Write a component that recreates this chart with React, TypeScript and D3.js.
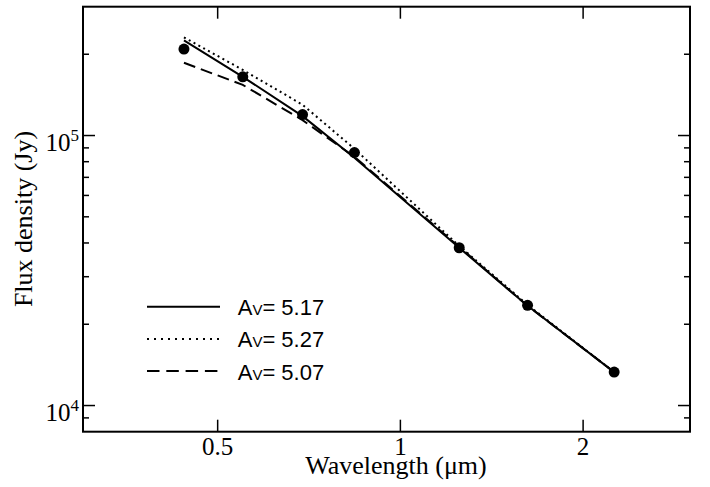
import React from "react";
import * as d3 from "d3";

const wavelengths = [0.44, 0.55, 0.69, 0.84, 1.25, 1.62, 2.25];
const observed = [2.09e5, 1.65e5, 1.196e5, 8.65e4, 3.84e4, 2.35e4, 1.33e4];
const modelAv517 = [2.25e5, 1.65e5, 1.18e5, 8.27e4, 3.84e4, 2.34e4, 1.33e4];
const modelAv527 = [2.31e5, 1.75e5, 1.3e5, 8.93e4, 3.9e4, 2.36e4, 1.33e4];
const modelAv507 = [1.86e5, 1.54e5, 1.14e5, 8.34e4, 3.87e4, 2.34e4, 1.33e4];
const legendLabels = ["5.17", "5.27", "5.07"];
const xTickValues = [0.5, 1, 2];
const xTickLabels = ["0.5", "1", "2"];
const yMajorValues = [1e4, 1e5];
const yMajorExponents = ["4", "5"];

const W = 710;
const H = 487;
const L = 83, R = 690, T = 6.7, B = 431.7;

export default function App() {
  const x = d3.scaleLog().domain([0.3, 3]).range([L, R]);
  const y = d3.scaleLog().domain([8e3, 3e5]).range([B, T]);

  const line = d3
    .line<[number, number]>()
    .x((d) => x(d[0]))
    .y((d) => y(d[1]));

  const series = [
    { values: modelAv517, dash: undefined as string | undefined, legendDash: undefined as string | undefined },
    { values: modelAv527, dash: "2,3.5", legendDash: "2,5" },
    { values: modelAv507, dash: "12,6", legendDash: "12.5,6.8" },
  ];

  const minor = y
    .ticks()
    .filter((v) => v > 8e3 * 1.0001 && v < 3e5 * 0.9999)
    .filter((v) => !yMajorValues.some((m) => Math.abs(m - v) / m < 1e-6));

  const serif = "'Liberation Serif', 'Times New Roman', serif";
  const sans = "'Liberation Sans', Arial, sans-serif";

  return (
    <svg
      width={W}
      height={H}
      viewBox={`0 0 ${W} ${H}`}
      style={{ position: "absolute", left: 0, top: 0, background: "#fff" }}
    >
      <rect x={0} y={0} width={W} height={H} fill="#fff" />
      {series.map((s, i) => (
        <path
          key={i}
          d={line(wavelengths.map((w, j) => [w, s.values[j]] as [number, number])) || ""}
          fill="none"
          stroke="#000"
          strokeWidth={2}
          strokeDasharray={s.dash}
        />
      ))}
      {wavelengths.map((w, j) => (
        <circle key={j} cx={x(w)} cy={y(observed[j])} r={5.5} fill="#000" />
      ))}
      <rect x={L} y={T} width={R - L} height={B - T} fill="none" stroke="#000" strokeWidth={2} />
      {xTickValues.map((v, i) => (
        <g key={i}>
          <line x1={x(v)} x2={x(v)} y1={B} y2={B - 12} stroke="#000" strokeWidth={1.5} />
          <line x1={x(v)} x2={x(v)} y1={T} y2={T + 12} stroke="#000" strokeWidth={1.5} />
          <text x={x(v)} y={454.5} textAnchor="middle" fontFamily={serif} fontSize={25}>
            {xTickLabels[i]}
          </text>
        </g>
      ))}
      {yMajorValues.map((v, i) => (
        <g key={i}>
          <line x1={L} x2={L + 12} y1={y(v)} y2={y(v)} stroke="#000" strokeWidth={1.5} />
          <line x1={R} x2={R - 12} y1={y(v)} y2={y(v)} stroke="#000" strokeWidth={1.5} />
          <text x={79} y={y(v) + 15} textAnchor="end" fontFamily={serif} fontSize={25}>
            10
            <tspan fontSize={17} dy={-10}>
              {yMajorExponents[i]}
            </tspan>
          </text>
        </g>
      ))}
      {minor.map((v, i) => (
        <g key={i}>
          <line x1={L} x2={L + 6} y1={y(v)} y2={y(v)} stroke="#000" strokeWidth={1.5} />
          <line x1={R} x2={R - 6} y1={y(v)} y2={y(v)} stroke="#000" strokeWidth={1.5} />
        </g>
      ))}
      <text x={396} y={473.5} textAnchor="middle" fontFamily={serif} fontSize={26}>
        Wavelength (μm)
      </text>
      <text
        transform={`translate(32, 219) rotate(-90)`}
        textAnchor="middle"
        fontFamily={serif}
        fontSize={26}
      >
        Flux density (Jy)
      </text>
      {series.map((s, i) => {
        const ly = 306.7 + i * 32.2;
        return (
          <g key={i}>
            <line
              x1={147}
              x2={220}
              y1={ly}
              y2={ly}
              stroke="#000"
              strokeWidth={2}
              strokeDasharray={s.legendDash}
            />
            <text x={237.7} y={ly + 8.5} fontFamily={sans} fontSize={22}>
              A
              <tspan fontSize={15}>V</tspan>
              <tspan>{"= " + legendLabels[i]}</tspan>
            </text>
          </g>
        );
      })}
    </svg>
  );
}
